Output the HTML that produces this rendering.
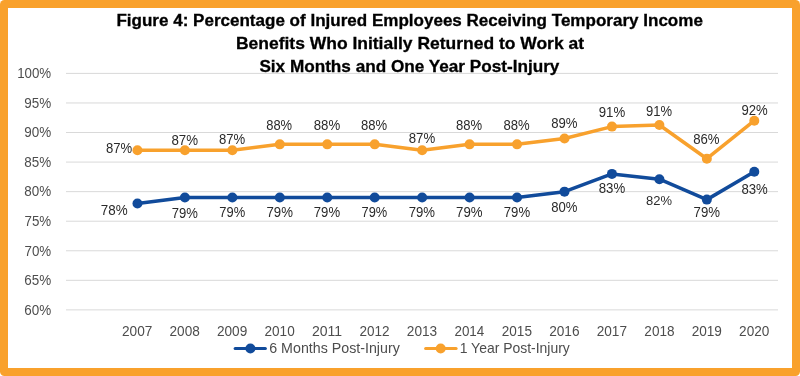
<!DOCTYPE html>
<html><head><meta charset="utf-8"><style>
html,body{margin:0;padding:0;background:#fff;width:800px;height:376px;overflow:hidden}
svg{display:block;will-change:transform}
text{font-family:"Liberation Sans",sans-serif}
</style></head><body>
<svg width="800" height="376" viewBox="0 0 800 376">
<rect x="0" y="0" width="800" height="376" rx="4.5" ry="4.5" fill="#F9A12C"/>
<rect x="8" y="8" width="784" height="360" fill="#FFFFFF"/>
<rect x="66" y="72.900" width="712" height="1" fill="#D9D9D9"/>
<rect x="66" y="102.460" width="712" height="1" fill="#D9D9D9"/>
<rect x="66" y="132.020" width="712" height="1" fill="#D9D9D9"/>
<rect x="66" y="161.580" width="712" height="1" fill="#D9D9D9"/>
<rect x="66" y="191.140" width="712" height="1" fill="#D9D9D9"/>
<rect x="66" y="220.700" width="712" height="1" fill="#D9D9D9"/>
<rect x="66" y="250.260" width="712" height="1" fill="#D9D9D9"/>
<rect x="66" y="279.820" width="712" height="1" fill="#D9D9D9"/>
<rect x="66" y="309.380" width="712" height="1" fill="#D9D9D9"/>
<polyline points="137.45,203.46 184.90,197.55 232.35,197.55 279.80,197.55 327.25,197.55 374.70,197.55 422.15,197.55 469.60,197.55 517.05,197.55 564.50,191.64 611.95,173.90 659.40,179.22 706.85,199.62 754.30,171.72" fill="none" stroke="#114B9B" stroke-width="3.5" stroke-linejoin="round" stroke-linecap="round"/>
<circle cx="137.45" cy="203.46" r="5" fill="#114B9B"/>
<circle cx="184.90" cy="197.55" r="5" fill="#114B9B"/>
<circle cx="232.35" cy="197.55" r="5" fill="#114B9B"/>
<circle cx="279.80" cy="197.55" r="5" fill="#114B9B"/>
<circle cx="327.25" cy="197.55" r="5" fill="#114B9B"/>
<circle cx="374.70" cy="197.55" r="5" fill="#114B9B"/>
<circle cx="422.15" cy="197.55" r="5" fill="#114B9B"/>
<circle cx="469.60" cy="197.55" r="5" fill="#114B9B"/>
<circle cx="517.05" cy="197.55" r="5" fill="#114B9B"/>
<circle cx="564.50" cy="191.64" r="5" fill="#114B9B"/>
<circle cx="611.95" cy="173.90" r="5" fill="#114B9B"/>
<circle cx="659.40" cy="179.22" r="5" fill="#114B9B"/>
<circle cx="706.85" cy="199.62" r="5" fill="#114B9B"/>
<circle cx="754.30" cy="171.72" r="5" fill="#114B9B"/>
<polyline points="137.45,150.26 184.90,150.26 232.35,150.26 279.80,144.34 327.25,144.34 374.70,144.34 422.15,150.26 469.60,144.34 517.05,144.34 564.50,138.43 611.95,126.61 659.40,124.95 706.85,158.71 754.30,120.70" fill="none" stroke="#F8A12D" stroke-width="3.5" stroke-linejoin="round" stroke-linecap="round"/>
<circle cx="137.45" cy="150.26" r="5" fill="#F8A12D"/>
<circle cx="184.90" cy="150.26" r="5" fill="#F8A12D"/>
<circle cx="232.35" cy="150.26" r="5" fill="#F8A12D"/>
<circle cx="279.80" cy="144.34" r="5" fill="#F8A12D"/>
<circle cx="327.25" cy="144.34" r="5" fill="#F8A12D"/>
<circle cx="374.70" cy="144.34" r="5" fill="#F8A12D"/>
<circle cx="422.15" cy="150.26" r="5" fill="#F8A12D"/>
<circle cx="469.60" cy="144.34" r="5" fill="#F8A12D"/>
<circle cx="517.05" cy="144.34" r="5" fill="#F8A12D"/>
<circle cx="564.50" cy="138.43" r="5" fill="#F8A12D"/>
<circle cx="611.95" cy="126.61" r="5" fill="#F8A12D"/>
<circle cx="659.40" cy="124.95" r="5" fill="#F8A12D"/>
<circle cx="706.85" cy="158.71" r="5" fill="#F8A12D"/>
<circle cx="754.30" cy="120.70" r="5" fill="#F8A12D"/>
<line x1="235.1" y1="348.5" x2="265.4" y2="348.5" stroke="#114B9B" stroke-width="3" stroke-linecap="round"/>
<circle cx="250.4" cy="348.5" r="5" fill="#114B9B"/>
<line x1="425.6" y1="348.5" x2="456.1" y2="348.5" stroke="#F8A12D" stroke-width="3" stroke-linecap="round"/>
<circle cx="440.7" cy="348.5" r="5" fill="#F8A12D"/>
<text transform="translate(116.405,26.000) scale(0.017048,0.017143)" font-size="1000" font-weight="bold" fill="#000000" stroke="#000000" stroke-width="17.60">Figure 4: Percentage of Injured Employees Receiving Temporary Income</text>
<text transform="translate(235.996,49.000) scale(0.017477,0.017143)" font-size="1000" font-weight="bold" fill="#000000" stroke="#000000" stroke-width="17.16">Benefits Who Initially Returned to Work at</text>
<text transform="translate(259.380,72.000) scale(0.017173,0.017143)" font-size="1000" font-weight="bold" fill="#000000" stroke="#000000" stroke-width="17.47">Six Months and One Year Post-Injury</text>
<text transform="translate(17.133,78.000) scale(0.013309,0.014327)" font-size="1000" font-weight="normal" fill="#4D4D4D">100%</text>
<text transform="translate(24.345,108.000) scale(0.013466,0.014327)" font-size="1000" font-weight="normal" fill="#4D4D4D">95%</text>
<text transform="translate(24.345,137.000) scale(0.013466,0.014327)" font-size="1000" font-weight="normal" fill="#4D4D4D">90%</text>
<text transform="translate(24.366,167.000) scale(0.013437,0.014327)" font-size="1000" font-weight="normal" fill="#4D4D4D">85%</text>
<text transform="translate(24.366,196.000) scale(0.013437,0.014327)" font-size="1000" font-weight="normal" fill="#4D4D4D">80%</text>
<text transform="translate(24.477,226.000) scale(0.013350,0.014327)" font-size="1000" font-weight="normal" fill="#4D4D4D">75%</text>
<text transform="translate(24.477,256.000) scale(0.013350,0.014327)" font-size="1000" font-weight="normal" fill="#4D4D4D">70%</text>
<text transform="translate(24.289,285.000) scale(0.013475,0.014327)" font-size="1000" font-weight="normal" fill="#4D4D4D">65%</text>
<text transform="translate(24.289,315.000) scale(0.013475,0.014327)" font-size="1000" font-weight="normal" fill="#4D4D4D">60%</text>
<text transform="translate(122.005,336.000) scale(0.013660,0.014327)" font-size="1000" font-weight="normal" fill="#4D4D4D">2007</text>
<text transform="translate(169.563,336.000) scale(0.013589,0.014327)" font-size="1000" font-weight="normal" fill="#4D4D4D">2008</text>
<text transform="translate(216.940,336.000) scale(0.013633,0.014327)" font-size="1000" font-weight="normal" fill="#4D4D4D">2009</text>
<text transform="translate(264.533,336.000) scale(0.013576,0.014327)" font-size="1000" font-weight="normal" fill="#4D4D4D">2010</text>
<text transform="translate(312.033,336.000) scale(0.014021,0.014327)" font-size="1000" font-weight="normal" fill="#4D4D4D">2011</text>
<text transform="translate(359.491,336.000) scale(0.013541,0.014327)" font-size="1000" font-weight="normal" fill="#4D4D4D">2012</text>
<text transform="translate(406.840,336.000) scale(0.013665,0.014327)" font-size="1000" font-weight="normal" fill="#4D4D4D">2013</text>
<text transform="translate(454.476,336.000) scale(0.013408,0.014327)" font-size="1000" font-weight="normal" fill="#4D4D4D">2014</text>
<text transform="translate(501.787,336.000) scale(0.013567,0.014327)" font-size="1000" font-weight="normal" fill="#4D4D4D">2015</text>
<text transform="translate(549.149,336.000) scale(0.013685,0.014327)" font-size="1000" font-weight="normal" fill="#4D4D4D">2016</text>
<text transform="translate(596.713,336.000) scale(0.013629,0.014327)" font-size="1000" font-weight="normal" fill="#4D4D4D">2017</text>
<text transform="translate(644.358,336.000) scale(0.013548,0.014327)" font-size="1000" font-weight="normal" fill="#4D4D4D">2018</text>
<text transform="translate(691.647,336.000) scale(0.013641,0.014327)" font-size="1000" font-weight="normal" fill="#4D4D4D">2019</text>
<text transform="translate(739.081,336.000) scale(0.013595,0.014327)" font-size="1000" font-weight="normal" fill="#4D4D4D">2020</text>
<text transform="translate(105.941,153.000) scale(0.013119,0.014327)" font-size="1000" font-weight="normal" fill="#2B2B2B">87%</text>
<text transform="translate(171.424,145.000) scale(0.013291,0.014327)" font-size="1000" font-weight="normal" fill="#2B2B2B">87%</text>
<text transform="translate(218.941,144.000) scale(0.013119,0.014327)" font-size="1000" font-weight="normal" fill="#2B2B2B">87%</text>
<text transform="translate(266.229,130.000) scale(0.012953,0.014327)" font-size="1000" font-weight="normal" fill="#2B2B2B">88%</text>
<text transform="translate(313.709,130.000) scale(0.013211,0.014327)" font-size="1000" font-weight="normal" fill="#2B2B2B">88%</text>
<text transform="translate(360.958,130.000) scale(0.013078,0.014327)" font-size="1000" font-weight="normal" fill="#2B2B2B">88%</text>
<text transform="translate(408.709,143.000) scale(0.013211,0.014327)" font-size="1000" font-weight="normal" fill="#2B2B2B">87%</text>
<text transform="translate(455.958,130.000) scale(0.013078,0.014327)" font-size="1000" font-weight="normal" fill="#2B2B2B">88%</text>
<text transform="translate(503.446,130.000) scale(0.013107,0.014327)" font-size="1000" font-weight="normal" fill="#2B2B2B">88%</text>
<text transform="translate(551.215,128.000) scale(0.013136,0.014327)" font-size="1000" font-weight="normal" fill="#2B2B2B">89%</text>
<text transform="translate(598.694,117.000) scale(0.013227,0.014327)" font-size="1000" font-weight="normal" fill="#2B2B2B">91%</text>
<text transform="translate(645.961,116.000) scale(0.013020,0.014327)" font-size="1000" font-weight="normal" fill="#2B2B2B">91%</text>
<text transform="translate(693.201,144.000) scale(0.013202,0.014327)" font-size="1000" font-weight="normal" fill="#2B2B2B">86%</text>
<text transform="translate(741.447,115.000) scale(0.013131,0.014327)" font-size="1000" font-weight="normal" fill="#2B2B2B">92%</text>
<text transform="translate(100.743,215.000) scale(0.013421,0.014327)" font-size="1000" font-weight="normal" fill="#2B2B2B">78%</text>
<text transform="translate(171.777,218.000) scale(0.013082,0.014327)" font-size="1000" font-weight="normal" fill="#2B2B2B">79%</text>
<text transform="translate(219.348,217.000) scale(0.012918,0.014327)" font-size="1000" font-weight="normal" fill="#2B2B2B">79%</text>
<text transform="translate(266.509,217.000) scale(0.013207,0.014327)" font-size="1000" font-weight="normal" fill="#2B2B2B">79%</text>
<text transform="translate(313.785,217.000) scale(0.013130,0.014327)" font-size="1000" font-weight="normal" fill="#2B2B2B">79%</text>
<text transform="translate(361.566,217.000) scale(0.012860,0.014327)" font-size="1000" font-weight="normal" fill="#2B2B2B">79%</text>
<text transform="translate(408.731,217.000) scale(0.013169,0.014327)" font-size="1000" font-weight="normal" fill="#2B2B2B">79%</text>
<text transform="translate(456.025,217.000) scale(0.013247,0.014327)" font-size="1000" font-weight="normal" fill="#2B2B2B">79%</text>
<text transform="translate(503.773,217.000) scale(0.013178,0.014327)" font-size="1000" font-weight="normal" fill="#2B2B2B">79%</text>
<text transform="translate(551.233,212.000) scale(0.013086,0.014327)" font-size="1000" font-weight="normal" fill="#2B2B2B">80%</text>
<text transform="translate(598.709,193.000) scale(0.013211,0.014327)" font-size="1000" font-weight="normal" fill="#2B2B2B">83%</text>
<text transform="translate(645.993,205.000) scale(0.012993,0.012894)" font-size="1000" font-weight="normal" fill="#2B2B2B">82%</text>
<text transform="translate(693.547,217.000) scale(0.013223,0.014327)" font-size="1000" font-weight="normal" fill="#2B2B2B">79%</text>
<text transform="translate(741.450,194.000) scale(0.013178,0.014327)" font-size="1000" font-weight="normal" fill="#2B2B2B">83%</text>
<text transform="translate(269.246,353.000) scale(0.014254,0.014535)" font-size="1000" font-weight="normal" fill="#4D4D4D">6 Months Post-Injury</text>
<text transform="translate(459.744,353.000) scale(0.013945,0.014535)" font-size="1000" font-weight="normal" fill="#4D4D4D">1 Year Post-Injury</text>
</svg>
</body></html>
